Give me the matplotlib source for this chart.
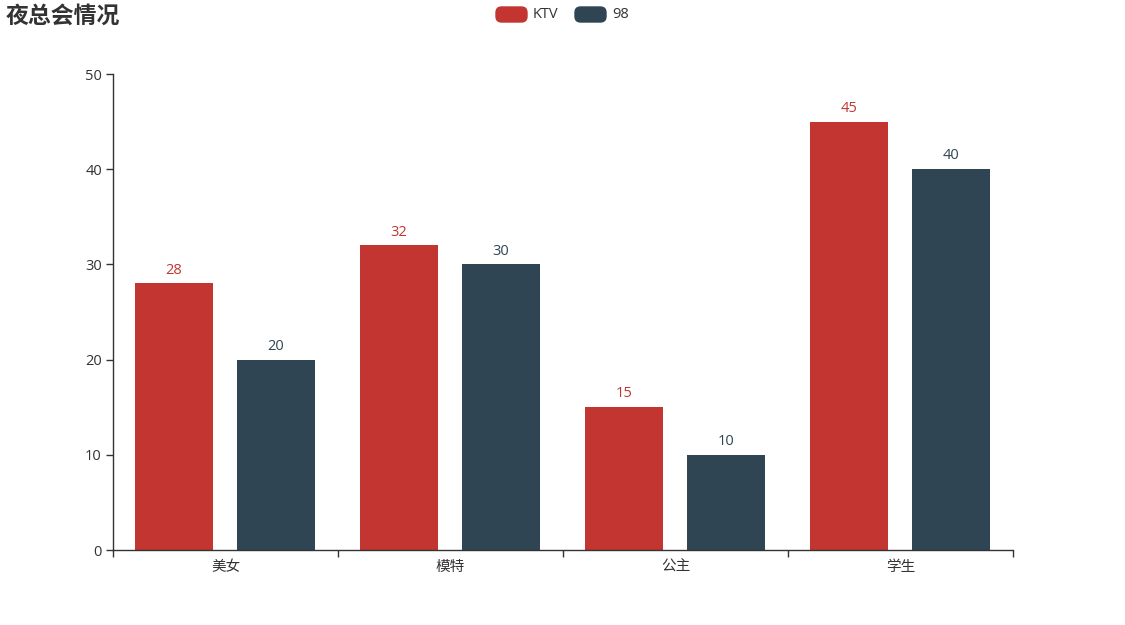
import matplotlib
matplotlib.use("Agg")
import matplotlib.pyplot as plt
from matplotlib.patches import FancyBboxPatch
import numpy as np

plt.rcParams['font.family'] = ['Open Sans', 'Noto Sans CJK SC', 'DejaVu Sans']

categories = ["美女", "模特", "公主", "学生"]
series_names = ["KTV", "98"]
ktv = [28, 32, 15, 45]
s98 = [20, 30, 10, 40]
yticks = [0, 10, 20, 30, 40, 50]
colors = ["#c23531", "#2f4554"]

W, H = 1125, 625
fig = plt.figure(figsize=(W / 100, H / 100), dpi=100)
ax = fig.add_axes([113 / W, 1 - 550 / H, 900 / W, 476 / H])

x = np.arange(len(categories))
bw = 78 / 225
off = 51 / 225
for vals, c, d in [(ktv, colors[0], -off - 0.003), (s98, colors[1], off - 0.003)]:
    ax.bar(x + 0.5 + d, vals, width=bw, color=c)
    for xi, v in zip(x, vals):
        ax.text(xi + 0.5 + d, v + 0.6, str(v), ha='center', va='bottom',
                color=c, fontsize=10.5)

ax.set_xlim(0, len(categories))
ax.set_ylim(0, 50)
ax.set_xticks(np.arange(len(categories) + 1))
ax.set_xticklabels([])
ax.set_xticks(x + 0.5, minor=True)
ax.set_xticklabels(categories, minor=True, fontsize=10.5, color='#333333',
                   family=['Noto Sans CJK SC'])
ax.tick_params(axis='x', which='minor', length=0, pad=7)
ax.tick_params(axis='x', which='major', length=5, color='#333333', width=1)
ax.set_yticks(yticks)
ax.set_yticklabels([str(t) for t in yticks], fontsize=10.5, color='#333333')
ax.tick_params(axis='y', length=5, color='#333333', width=1, pad=3)
for s in ['top', 'right']:
    ax.spines[s].set_visible(False)
for s in ['left', 'bottom']:
    ax.spines[s].set_color('#333333')
    ax.spines[s].set_linewidth(1)

fig.text(6 / W, 1 - 16 / H, "夜总会情况", fontsize=16.5, fontweight='bold',
         color='#333333', va='center', ha='left', family=['Noto Sans CJK SC'])

# legend
for (x0, label), c in zip([(496, "KTV"), (575, "98")], colors):
    p = FancyBboxPatch((x0 / W, 1 - 22 / H), 31 / W, 15 / H,
                       boxstyle="round,pad=0,rounding_size=0.005",
                       transform=fig.transFigure, color=c, mutation_aspect=W / H)
    fig.patches.append(p)
    fig.text((x0 + 37) / W, 1 - 14.5 / H, label, fontsize=10.5, color='#333333',
             va='center', ha='left')

fig.savefig("out.png", dpi=100)
